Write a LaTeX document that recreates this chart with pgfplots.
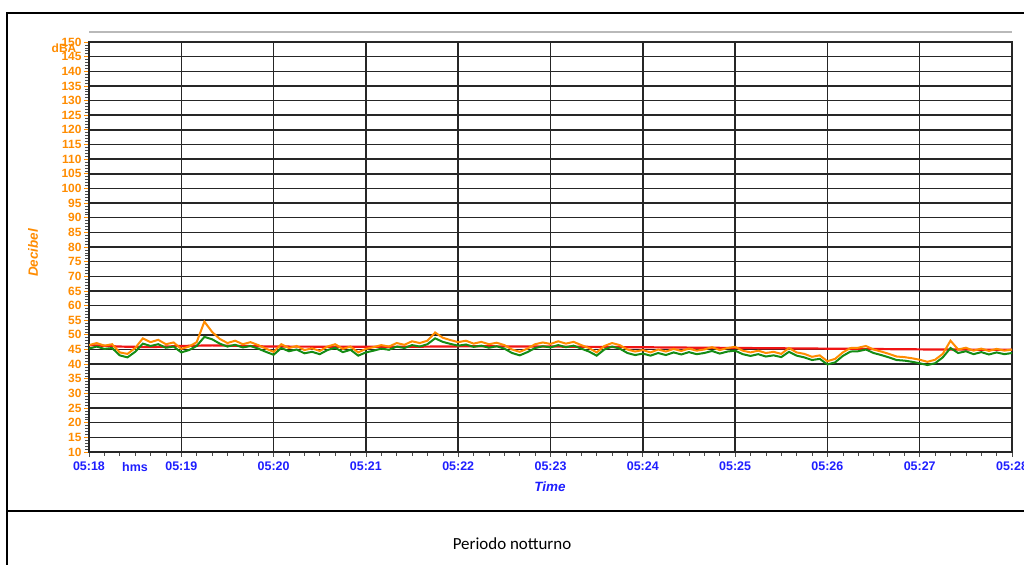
\documentclass[border=0pt]{standalone}
\usepackage{fontspec}
\setmainfont{Liberation Sans}
\newfontfamily\calibri{Carlito}
\usepackage{pgfplots}
\pgfplotsset{compat=1.18}
\definecolor{lorange}{RGB}{255,140,0}
\definecolor{lblue}{RGB}{30,30,255}
\definecolor{lgreen}{RGB}{20,140,20}
\definecolor{lred}{RGB}{240,20,20}
\begin{document}
\begin{tikzpicture}[x=1bp,y=1bp]
\useasboundingbox (0,0) rectangle (1024,565);
\fill[white] (0,0) rectangle (1024,565);
\draw[line width=2bp] (7,-5) -- (7,552) -- (1030,552);
\draw[line width=2bp] (7,54) -- (1030,54);
\node[font=\calibri\fontsize{17}{17}\selectfont] at (512,21) {Periodo notturno};
\draw[gray!55, line width=1.5bp] (89,533) -- (1012,533);
\begin{axis}[at={(89bp,113bp)}, anchor=south west, scale only axis,
  width=923bp, height=410bp,
  xmin=0, xmax=600, ymin=10, ymax=150,
  xtick={0,60,...,600},
  xticklabels={05:18,05:19,05:20,05:21,05:22,05:23,05:24,05:25,05:26,05:27,05:28},
  ytick={10,15,...,150},
  minor x tick num=5, minor y tick num=4,
  tick pos=left, tick align=outside,
  major tick length=5bp, minor tick length=4bp,
  major tick style={lorange, line width=0.8bp},
  minor tick style={black!70, line width=0.6bp},
  x tick style={black!70},
  grid=major,
  major grid style={black!85, line width=1.5bp},
  axis line style={black!85, line width=1.5bp},
  /pgf/number format/assume math mode=true,
  yticklabel style={text=lorange, font=\fontsize{12}{12}\selectfont\bfseries, xshift=1bp},
  xticklabel style={text=lblue, font=\fontsize{12.5}{12.5}\selectfont\bfseries, yshift=-1bp},
]
\addplot[lred, line width=2.2bp] coordinates {
(0,46.5)(20,46.0)(40,45.8)(60,46.2)(80,46.4)(120,46.0)(200,45.9)(250,46.1)(300,46.0)(350,45.8)(400,45.6)(450,45.4)(500,45.2)(550,45.0)(600,44.9)};
\addplot[lgreen, line width=2bp] coordinates {
(0,45.3)(5,46.0)(10,45.2)(15,45.5)(20,43.0)(25,42.3)(30,44.2)(35,47.0)(40,46.2)(45,46.8)
(50,45.6)(55,46.0)(60,44.0)(65,44.8)(70,46.2)(75,49.3)(80,48.5)(85,47.0)(90,46.0)(95,46.6)
(100,45.7)(105,46.2)(110,45.3)(115,44.2)(120,43.2)(125,45.5)(130,44.4)(135,45.0)(140,43.7)(145,44.2)
(150,43.4)(155,44.8)(160,45.6)(165,44.1)(170,44.9)(175,42.9)(180,44.0)(185,44.6)(190,45.3)(195,44.9)
(200,46.0)(205,45.5)(210,46.5)(215,46.0)(220,46.8)(225,48.8)(230,47.6)(235,46.9)(240,46.3)(245,46.7)
(250,45.9)(255,46.3)(260,45.6)(265,46.1)(270,45.3)(275,43.8)(280,43.0)(285,44.1)(290,45.5)(295,46.1)
(300,45.7)(305,46.5)(310,45.8)(315,46.3)(320,45.3)(325,44.3)(330,42.9)(335,45.0)(340,46.0)(345,45.3)
(350,43.8)(355,43.1)(360,43.6)(365,42.9)(370,43.8)(375,43.1)(380,44.0)(385,43.3)(390,44.1)(395,43.4)
(400,43.8)(405,44.5)(410,43.6)(415,44.3)(420,44.6)(425,43.4)(430,42.8)(435,43.4)(440,42.6)(445,43.0)
(450,42.4)(455,44.2)(460,42.9)(465,42.3)(470,41.4)(475,41.8)(480,39.9)(485,40.6)(490,42.8)(495,44.3)
(500,44.4)(505,45.0)(510,43.8)(515,43.1)(520,42.3)(525,41.4)(530,41.2)(535,40.8)(540,40.3)(545,39.7)
(550,40.3)(555,42.3)(560,45.5)(565,43.8)(570,44.4)(575,43.4)(580,44.1)(585,43.3)(590,44.0)(595,43.4)
(600,43.8)};
\addplot[lorange, line width=2bp] coordinates {
(0,46.5)(5,47.2)(10,46.3)(15,46.8)(20,44.0)(25,43.5)(30,45.5)(35,48.8)(40,47.5)(45,48.3)
(50,46.8)(55,47.4)(60,45.2)(65,46.0)(70,47.5)(75,54.5)(80,51.0)(85,48.6)(90,47.2)(95,48.0)
(100,46.8)(105,47.5)(110,46.5)(115,45.3)(120,44.2)(125,46.8)(130,45.5)(135,46.2)(140,44.8)(145,45.4)
(150,44.5)(155,46.0)(160,46.8)(165,45.2)(170,46.0)(175,44.0)(180,45.2)(185,45.8)(190,46.5)(195,46.0)
(200,47.2)(205,46.6)(210,47.8)(215,47.2)(220,48.0)(225,50.8)(230,49.0)(235,48.2)(240,47.5)(245,48.0)
(250,47.0)(255,47.6)(260,46.8)(265,47.3)(270,46.5)(275,45.0)(280,44.2)(285,45.3)(290,46.8)(295,47.4)
(300,46.9)(305,47.8)(310,47.0)(315,47.6)(320,46.5)(325,45.5)(330,44.0)(335,46.2)(340,47.2)(345,46.5)
(350,45.0)(355,44.3)(360,44.8)(365,44.0)(370,45.0)(375,44.3)(380,45.2)(385,44.5)(390,45.3)(395,44.6)
(400,45.0)(405,45.8)(410,44.8)(415,45.5)(420,45.9)(425,44.6)(430,44.0)(435,44.6)(440,43.8)(445,44.2)
(450,43.5)(455,45.5)(460,44.0)(465,43.5)(470,42.5)(475,43.0)(480,41.0)(485,41.8)(490,44.0)(495,45.5)
(500,45.6)(505,46.2)(510,45.0)(515,44.3)(520,43.5)(525,42.6)(530,42.4)(535,42.0)(540,41.5)(545,40.8)
(550,41.5)(555,43.5)(560,48.0)(565,45.0)(570,45.6)(575,44.6)(580,45.3)(585,44.5)(590,45.2)(595,44.6)
(600,45.0)};
\end{axis}
\node[text=lblue, font=\fontsize{12.5}{12.5}\selectfont\bfseries] at (135,98) {hms};
\node[text=lblue, font=\fontsize{13.5}{13.5}\selectfont\bfseries\itshape] at (550,78) {Time};
\node[text=lorange, font=\fontsize{13.5}{13.5}\selectfont\bfseries\itshape, rotate=90] at (33,312) {Decibel};
\node[text=lorange, font=\fontsize{12}{12}\selectfont\bfseries] at (64,517) {dBA};
\end{tikzpicture}
\end{document}
